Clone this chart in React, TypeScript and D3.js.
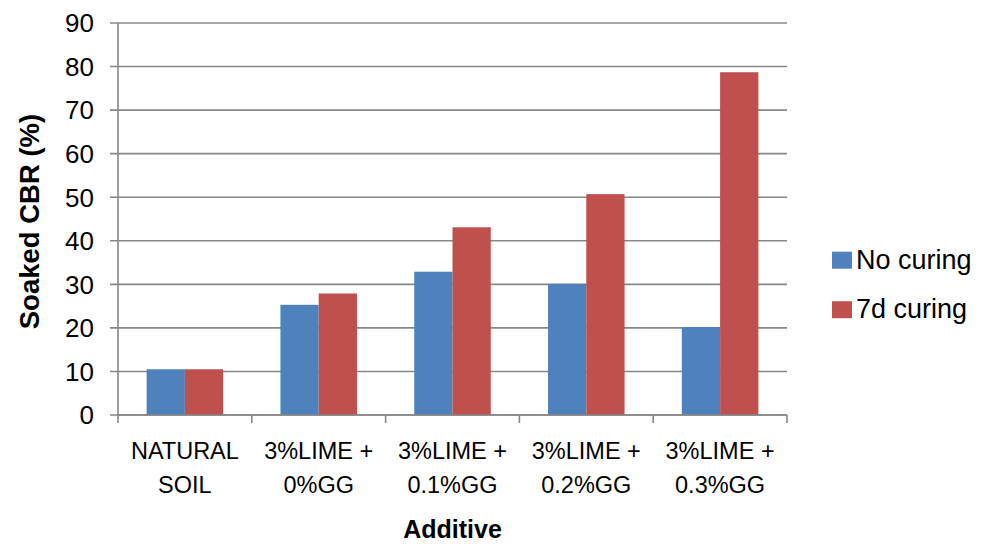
import React from "react";
import { scaleBand, scaleLinear, range } from "d3";

const categories = [
  ["NATURAL", "SOIL"],
  ["3%LIME +", "0%GG"],
  ["3%LIME +", "0.1%GG"],
  ["3%LIME +", "0.2%GG"],
  ["3%LIME +", "0.3%GG"],
];
const seriesNames = ["No curing", "7d curing"];
const noCuring = [10.5, 25.3, 32.9, 30.1, 20.2];
const curing7d = [10.5, 27.9, 43.1, 50.7, 78.7];
const yTicks = [0, 10, 20, 30, 40, 50, 60, 70, 80, 90];
const colors = ["#4F81BD", "#C0504D"];

const W = 986;
const H = 544;
const left = 118;
const right = 787;
const top = 23;
const bottom = 415;
const font = "Arial, 'Liberation Sans', sans-serif";

export default function App() {
  const keys = categories.map((c) => c.join(" "));
  const x = scaleBand<string>()
    .domain(keys)
    .range([left, right])
    .paddingInner(0.428)
    .paddingOuter(0.214);
  const step = (right - left) / keys.length;
  const xs = scaleBand<number>()
    .domain([0, 1])
    .range([0, x.bandwidth()]);
  const y = scaleLinear().domain([0, 90]).range([bottom, top]);
  const values = [noCuring, curing7d];

  return (
    <div style={{ position: "absolute", left: 0, top: 0 }}>
      <svg width={W} height={H} viewBox={`0 0 ${W} ${H}`} fontFamily={font}>
        <rect width={W} height={H} fill="#fff" />
        {/* gridlines + y ticks */}
        {yTicks.map((t) => (
          <g key={t}>
            <line
              x1={left - 8}
              x2={right}
              y1={y(t)}
              y2={y(t)}
              stroke="#878787"
              strokeWidth={1.6}
            />
            <text
              x={94}
              y={y(t)}
              dy="0.36em"
              textAnchor="end"
              fontSize={26}
              fill="#000"
            >
              {t}
            </text>
          </g>
        ))}
        {/* bars */}
        {values.map((vals, si) =>
          vals.map((v, i) => (
            <rect
              key={`${si}-${i}`}
              x={x(keys[i])! + xs(si)!}
              y={y(v)}
              width={xs.bandwidth()}
              height={bottom - y(v)}
              fill={colors[si]}
            />
          ))
        )}
        {/* axes */}
        <line x1={left} x2={left} y1={top} y2={bottom} stroke="#878787" strokeWidth={1.6} />
        <line x1={left} x2={right} y1={bottom} y2={bottom} stroke="#878787" strokeWidth={1.6} />
        {range(keys.length + 1).map((i) => (
          <line
            key={i}
            x1={left + i * step}
            x2={left + i * step}
            y1={bottom}
            y2={bottom + 8}
            stroke="#878787"
            strokeWidth={1.6}
          />
        ))}
        {/* category labels */}
        {categories.map((c, i) => (
          <text
            key={i}
            x={x(keys[i])! + x.bandwidth() / 2}
            textAnchor="middle"
            fontSize={23.5}
            fill="#000"
          >
            <tspan x={x(keys[i])! + x.bandwidth() / 2} y={459}>
              {c[0]}
            </tspan>
            <tspan x={x(keys[i])! + x.bandwidth() / 2} y={493}>
              {c[1]}
            </tspan>
          </text>
        ))}
        {/* axis titles */}
        <text
          x={(left + right) / 2}
          y={538}
          textAnchor="middle"
          fontSize={25}
          fontWeight="bold"
        >
          Additive
        </text>
        <text
          transform={`translate(39,${221.5}) rotate(-90)`}
          textAnchor="middle"
          fontSize={27.5}
          fontWeight="bold"
        >
          Soaked CBR (%)
        </text>
        {/* legend */}
        {seriesNames.map((s, i) => (
          <g key={s} transform={`translate(832,${251.7 + i * 49.5})`}>
            <rect width={20} height={17} fill={colors[i]} />
            <text x={24} y={17} fontSize={27}>
              {s}
            </text>
          </g>
        ))}
      </svg>
    </div>
  );
}
